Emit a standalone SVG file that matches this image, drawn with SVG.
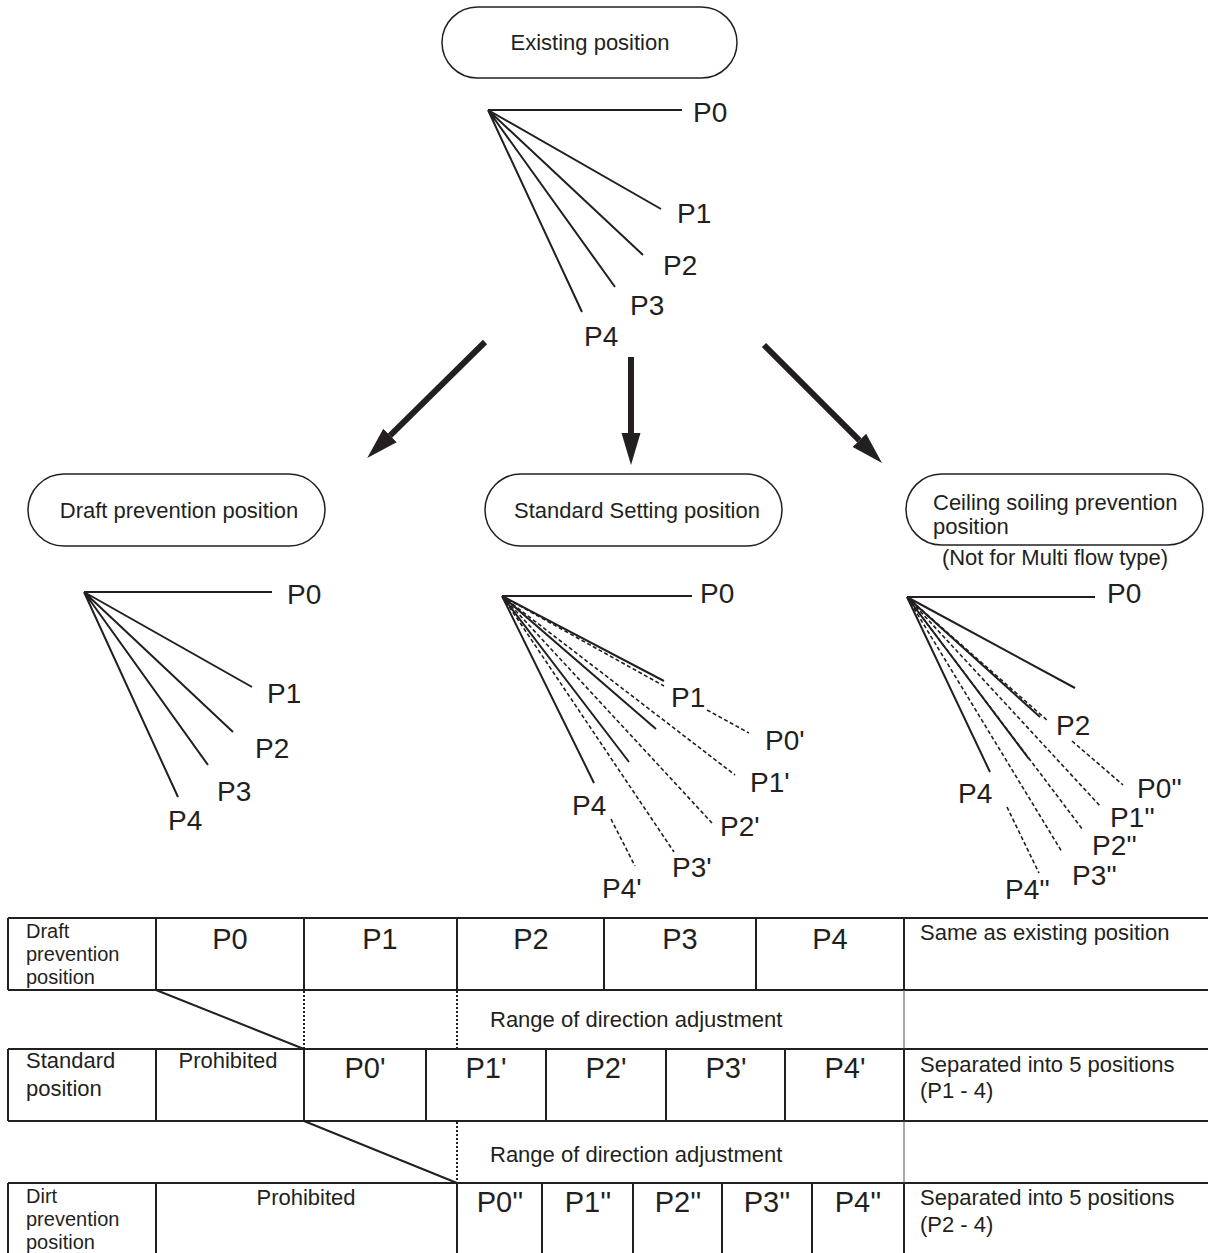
<svg xmlns="http://www.w3.org/2000/svg" width="1208" height="1253" viewBox="0 0 1208 1253">
<style>
text{font-family:"Liberation Sans",Arial,Helvetica,sans-serif;fill:#231f20}
.s{font-size:22px}
.s3{font-size:20px}
.p{font-size:28px}
.tp{font-size:29px;text-anchor:middle}
.c{text-anchor:middle}
.node{fill:#fff;stroke:#231f20;stroke-width:1.5}
.fan{stroke:#231f20;stroke-width:2;fill:none}
.dash{stroke:#231f20;stroke-width:1.6;stroke-dasharray:4 2.5;fill:none}
.arr{stroke:#231f20;stroke-width:6;fill:none}
.tb{stroke:#231f20;stroke-width:2;fill:none}
.thin{stroke:#555;stroke-width:1;fill:none}
.dot{stroke:#231f20;stroke-width:2;stroke-dasharray:2 2;fill:none}
</style>
<defs>
<marker id="ah" markerUnits="userSpaceOnUse" markerWidth="34" markerHeight="22" refX="0" refY="10" orient="auto" viewBox="0 0 34 20">
<path d="M0,0.5 L32,10 L0,19.5 z" fill="#231f20"/>
</marker>
</defs>

<g id="node-existing">
<rect class="node" x="442" y="7" width="295" height="71" rx="35.5"/>
<text class="s c" x="590" y="50">Existing position</text>
</g>
<g id="node-draft">
<rect class="node" x="28" y="474" width="297" height="72" rx="36"/>
<text class="s c" x="179" y="518">Draft prevention position</text>
</g>
<g id="node-standard">
<rect class="node" x="485" y="474" width="297" height="72" rx="36"/>
<text class="s c" x="637" y="518">Standard Setting position</text>
</g>
<g id="node-ceiling">
<rect class="node" x="906" y="474" width="297" height="71" rx="35.5"/>
<text class="s" x="933" y="510">Ceiling soiling prevention</text>
<text class="s" x="933" y="534">position</text>
<text class="s c" x="1055" y="565">(Not for Multi flow type)</text>
</g>

<g id="connectors">
<line class="arr" x1="485" y1="342" x2="390" y2="435.6" marker-end="url(#ah)"/>
<line class="arr" x1="631" y1="357" x2="631" y2="433" marker-end="url(#ah)"/>
<line class="arr" x1="764" y1="345" x2="859.4" y2="440.4" marker-end="url(#ah)"/>
</g>

<g id="fan-existing">
<path class="fan" d="M488,110 L682,110 M488,110 L661,209 M488,110 L643,255 M488,110 L615,287 M488,110 L582,312"/>
<text class="p" x="693" y="122">P0</text>
<text class="p" x="677" y="223">P1</text>
<text class="p" x="663" y="275">P2</text>
<text class="p" x="630" y="315">P3</text>
<text class="p" x="584" y="346">P4</text>
</g>

<g id="fan-draft">
<path class="fan" d="M84,592 L272,592 M84,592 L252,687 M84,592 L233,732 M84,592 L208,765 M84,592 L178,797"/>
<text class="p" x="287" y="604">P0</text>
<text class="p" x="267" y="703">P1</text>
<text class="p" x="255" y="758">P2</text>
<text class="p" x="217" y="801">P3</text>
<text class="p" x="168" y="830">P4</text>
</g>

<g id="fan-standard">
<path class="fan" d="M502,596 L692,596 M502,596 L664,681 M502,596 L656,729 M502,596 L629,762 M502,596 L594,783"/>
<path class="dash" d="M502,596 L664,686 M707,710 L749,733 M502,596 L735,775 M502,596 L712,823 M502,596 L674,852 M611,819 L635,866"/>
<text class="p" x="700" y="603">P0</text>
<text class="p" x="671" y="707">P1</text>
<text class="p" x="765" y="750">P0'</text>
<text class="p" x="750" y="792">P1'</text>
<text class="p" x="720" y="836">P2'</text>
<text class="p" x="572" y="815">P4</text>
<text class="p" x="672" y="877">P3'</text>
<text class="p" x="602" y="898">P4'</text>
</g>

<g id="fan-ceiling">
<path class="fan" d="M907,597 L1095,597 M907,597 L1075,688 M907,597 L1040,717 M907,597 L1029,759 M907,597 L990,772"/>
<path class="dash" d="M907,597 L1048,721 M1072,741 L1123,785 M907,597 L1101,807 M907,597 L1083,830 M907,597 L1062,852 M1007,807 L1039,873"/>
<text class="p" x="1107" y="603">P0</text>
<text class="p" x="1056" y="735">P2</text>
<text class="p" x="958" y="803">P4</text>
<text class="p" x="1137" y="798">P0''</text>
<text class="p" x="1110" y="827">P1''</text>
<text class="p" x="1092" y="855">P2''</text>
<text class="p" x="1072" y="885">P3''</text>
<text class="p" x="1005" y="899">P4''</text>
</g>

<g id="table">
<path class="tb" d="M8,918 H1208 M8,990 H1208 M8,1049 H1208 M8,1121 H1208 M8,1183 H1208"/>
<path class="tb" d="M8,918 V990 M156,918 V990 M304,918 V990 M457,918 V990 M604,918 V990 M756,918 V990 M904,918 V990"/>
<path class="tb" d="M8,1049 V1121 M156,1049 V1121 M304,1049 V1121 M426,1049 V1121 M546,1049 V1121 M666,1049 V1121 M785,1049 V1121 M904,1049 V1121"/>
<path class="tb" d="M8,1183 V1253 M156,1183 V1253 M457,1183 V1253 M542,1183 V1253 M633,1183 V1253 M722,1183 V1253 M812,1183 V1253 M904,1183 V1253"/>
<path class="thin" d="M904,990 V1049 M904,1121 V1183"/>
<path class="dot" d="M304,991 V1049 M457,991 V1049 M457,1122 V1183"/>
<path class="tb" d="M156,990 L304,1049 M304,1121 L457,1183"/>

<text class="s3" x="26" y="938">Draft</text>
<text class="s3" x="26" y="961">prevention</text>
<text class="s3" x="26" y="984">position</text>
<text class="tp" x="230" y="949">P0</text>
<text class="tp" x="380" y="949">P1</text>
<text class="tp" x="531" y="949">P2</text>
<text class="tp" x="680" y="949">P3</text>
<text class="tp" x="830" y="949">P4</text>
<text class="s" x="920" y="940">Same as existing position</text>

<text class="s" x="490" y="1027">Range of direction adjustment</text>

<text class="s" x="26" y="1068">Standard</text>
<text class="s" x="26" y="1096">position</text>
<text class="s c" x="228" y="1068">Prohibited</text>
<text class="tp" x="365" y="1078">P0'</text>
<text class="tp" x="486" y="1078">P1'</text>
<text class="tp" x="606" y="1078">P2'</text>
<text class="tp" x="726" y="1078">P3'</text>
<text class="tp" x="845" y="1078">P4'</text>
<text class="s" x="920" y="1072">Separated into 5 positions</text>
<text class="s" x="920" y="1098">(P1 - 4)</text>

<text class="s" x="490" y="1162">Range of direction adjustment</text>

<text class="s3" x="26" y="1203">Dirt</text>
<text class="s3" x="26" y="1226">prevention</text>
<text class="s3" x="26" y="1249">position</text>
<text class="s c" x="306" y="1205">Prohibited</text>
<text class="tp" x="500" y="1212">P0''</text>
<text class="tp" x="588" y="1212">P1''</text>
<text class="tp" x="678" y="1212">P2''</text>
<text class="tp" x="767" y="1212">P3''</text>
<text class="tp" x="858" y="1212">P4''</text>
<text class="s" x="920" y="1205">Separated into 5 positions</text>
<text class="s" x="920" y="1232">(P2 - 4)</text>
</g>
</svg>
